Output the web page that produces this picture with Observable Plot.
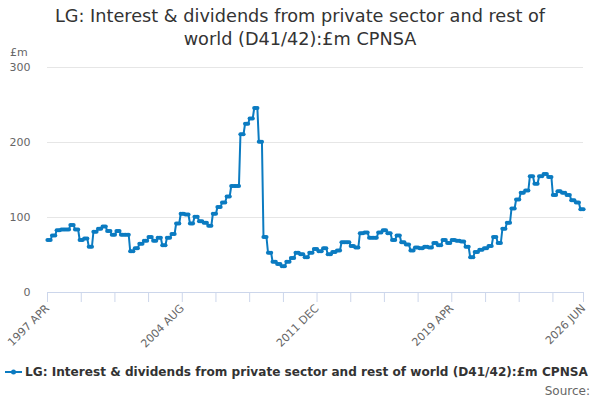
<!DOCTYPE html>
<html>
<head>
<meta charset="utf-8">
<script src="https://cdn.jsdelivr.net/npm/d3@7"></script>
<script src="https://cdn.jsdelivr.net/npm/@observablehq/plot@0.6"></script>
<style>
  html, body { margin: 0; padding: 0; background: #fff; }
  #wrap { position: relative; width: 600px; height: 400px; overflow: hidden; font-family: "DejaVu Sans", sans-serif; }
  #title { position: absolute; left: 0; top: 5px; width: 600px; text-align: center; font-size: 17.7px; line-height: 23px; color: #333333; }
  #unit { position: absolute; left: 10px; top: 46px; font-size: 11px; color: #666666; }
  #legend { position: absolute; left: 5px; top: 365px; font-size: 12.1px; font-weight: bold; color: #333333; white-space: nowrap; display: flex; align-items: center; }
  #legend svg { margin-right: 3px; }
  #source { position: absolute; right: 10px; top: 384px; font-size: 12px; color: #666666; }
  #chart { position: absolute; left: 0; top: 0; }
</style>
</head>
<body>
<div id="wrap">
  <div id="chart"></div>
  <div id="title">LG: Interest &amp; dividends from private sector and rest of<br>world (D41/42):£m CPNSA</div>
  <div id="unit">£m</div>
  <div id="legend"><svg width="17" height="10"><line x1="0" y1="5" x2="17" y2="5" stroke="#0b7bc1" stroke-width="2"/><circle cx="8.5" cy="5" r="2.5" fill="#0b7bc1"/></svg><span>LG: Interest &amp; dividends from private sector and rest of world (D41/42):£m CPNSA</span></div>
  <div id="source">Source:</div>
</div>
<script>
// Series starts 1997 APR; quarterly values (each shown for three months)
const startYear = 1997;
const startMonth = 3; // April (0-based)
const quarterlyValues = [
  70, 76, 83, 84, 84, 90, 84, 70, 72, 61,
  81, 85, 88, 82, 77, 82, 77, 77, 55, 59,
  65, 69, 74, 69, 73, 63, 73, 78, 92, 105,
  104, 92, 101, 95, 93, 89, 105, 114, 120, 128,
  142, 142, 211, 225, 232, 246, 201, 74, 53, 41,
  38, 35, 41, 46, 53, 51, 47, 53, 58, 55,
  59, 51, 54, 56, 67, 67, 62, 60, 79, 80,
  73, 73, 80, 83, 79, 70, 76, 67, 64, 56,
  60, 59, 61, 60, 66, 63, 70, 66, 70, 69,
  68, 61, 47, 54, 57, 59, 62, 74, 66, 85,
  93, 112, 124, 133, 136, 155, 145, 155, 158, 154,
  130, 135, 133, 130, 123, 120, 111
];
const yTicks = [0, 100, 200, 300];
const tickMonthOffsets = [0, 22, 44, 66, 88, 110, 132, 154, 176, 198, 220, 242, 264, 286, 308, 330, 350];
const labelledOffsets = [0, 88, 176, 264, 350];
const monthNames = ["JAN","FEB","MAR","APR","MAY","JUN","JUL","AUG","SEP","OCT","NOV","DEC"];

const monthlyValues = quarterlyValues.flatMap(v => [v, v, v]);
const start = new Date(Date.UTC(startYear, startMonth, 1));
const data = monthlyValues.map((v, i) => ({date: d3.utcMonth.offset(start, i), value: v}));
const tickDates = tickMonthOffsets.map(m => d3.utcMonth.offset(start, m));
const labelKeys = new Set(labelledOffsets.map(m => +d3.utcMonth.offset(start, m)));
const fmt = d => labelKeys.has(+d) ? `${d.getUTCFullYear()} ${monthNames[d.getUTCMonth()]}` : "";

const blue = "#0b7bc1";
const chart = Plot.plot({
  width: 600,
  height: 400,
  marginTop: 67,
  marginBottom: 108,
  marginLeft: 47,
  marginRight: 17,
  style: {fontFamily: "DejaVu Sans, sans-serif", fontSize: "11px", background: "transparent"},
  x: {type: "utc", domain: [data[0].date, data[data.length - 1].date]},
  y: {domain: [0, 300]},
  marks: [
    Plot.gridY(yTicks, {stroke: "#e6e6e6", strokeOpacity: 1}),
    Plot.axisY(yTicks, {tickSize: 0, tickPadding: 17, fill: "#666666", fontSize: 11, label: null}),
    Plot.axisX(tickDates, {tickSize: 10, stroke: "#ccd6eb", strokeOpacity: 1, fill: "#666666", fontSize: 11, tickRotate: -45, tickPadding: 4, tickFormat: fmt, label: null}),
    Plot.ruleY([0], {stroke: "#ccd6eb"}),
    Plot.line(data, {x: "date", y: "value", stroke: blue, strokeWidth: 2}),
    Plot.dot(data, {x: "date", y: "value", fill: blue, r: 2.1})
  ]
});
document.getElementById("chart").appendChild(chart);
</script>
</body>
</html>
